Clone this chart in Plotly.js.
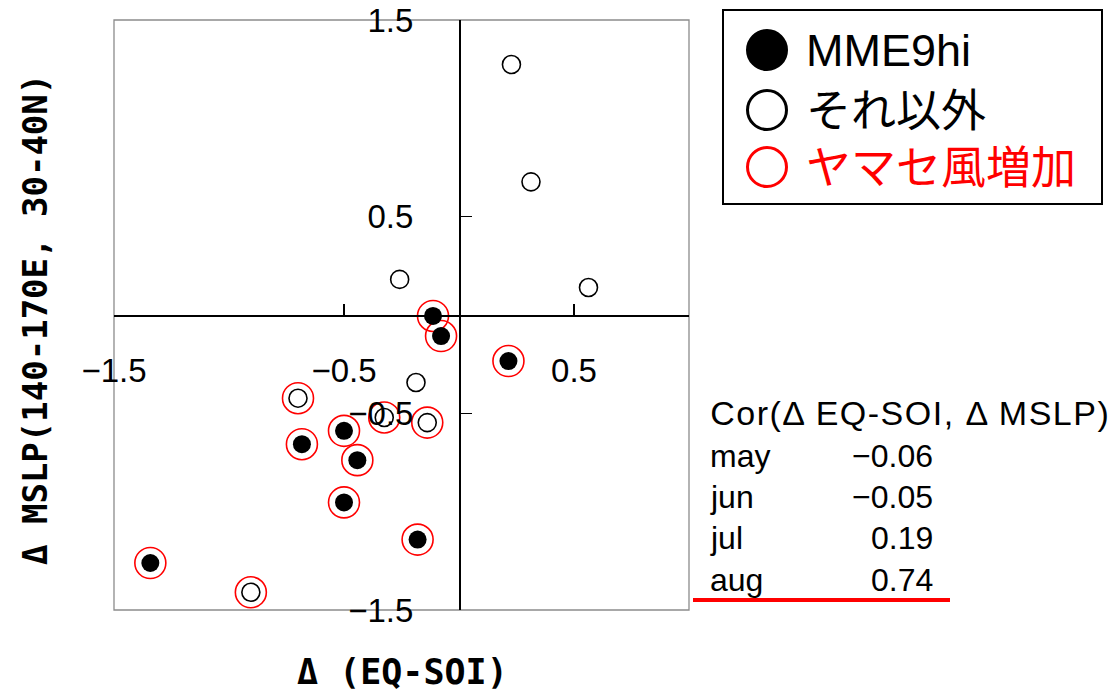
<!DOCTYPE html>
<html>
<head>
<meta charset="utf-8">
<script src="https://cdn.plot.ly/plotly-3.0.1.min.js"></script>
<style>
html,body{margin:0;padding:0;background:#fff;}
#chart{width:1115px;height:692px;}
.annotation[data-index="0"] .annotation-text{letter-spacing:1.5px;}
</style>
</head>
<body>
<div id="chart"></div>
<script>
// ---- data ----
const pointX = [0.228, 0.313, -0.258, 0.563, -0.113, -0.078, 0.215, -0.187, -0.70, -0.325, -0.138, -0.50, -0.683, -0.442, -0.50, -0.18, -1.342, -0.905];
const pointY = [1.274, 0.677, 0.181, 0.140, -0.005, -0.107, -0.234, -0.343, -0.423, -0.521, -0.547, -0.589, -0.657, -0.738, -0.953, -1.142, -1.261, -1.41];
const isMME9hi = [0, 0, 0, 0, 1, 1, 1, 0, 0, 0, 0, 1, 1, 1, 1, 1, 1, 0];
const isYamase = [0, 0, 0, 0, 1, 1, 1, 0, 1, 1, 1, 1, 1, 1, 1, 1, 1, 1];
const xTicks = [-1.5, -0.5, 0.5];
const yTicks = [-1.5, -0.5, 0.5, 1.5];
const legendLabels = ["MME9hi", "それ以外", "ヤマセ風増加"];
const corMonths = ["may", "jun", "jul", "aug"];
const corValues = ["\u22120.06", "\u22120.05", "0.19", "0.74"];
const corHeader = "Cor(Δ EQ-SOI, Δ MSLP)";
const xTitle = "Δ (EQ-SOI)";
const yTitle = "Δ MSLP(140-170E, 30-40N)";

// ---- layout helpers (pixel -> paper) ----
const L = 114, R = 689, T = 20, B = 610;
const px = v => (v - L) / (R - L);
const py = v => (B - v) / (B - T);

const pick = (arr, mask, val) => arr.filter((_, i) => mask[i] === val);

const traces = [
  {
    type: 'scatter', mode: 'markers', name: 'ヤマセ風増加',
    x: pick(pointX, isYamase, 1), y: pick(pointY, isYamase, 1),
    marker: {symbol: 'circle-open', size: 31, color: '#ff0000', line: {width: 1.6, color: '#ff0000'}},
    hoverinfo: 'x+y'
  },
  {
    type: 'scatter', mode: 'markers', name: 'MME9hi',
    x: pick(pointX, isMME9hi, 1), y: pick(pointY, isMME9hi, 1),
    marker: {symbol: 'circle', size: 18, color: '#000000'},
    hoverinfo: 'x+y'
  },
  {
    type: 'scatter', mode: 'markers', name: 'それ以外',
    x: pick(pointX, isMME9hi, 0), y: pick(pointY, isMME9hi, 0),
    marker: {symbol: 'circle-open', size: 18, color: '#000000', line: {width: 1.6, color: '#000000'}},
    hoverinfo: 'x+y'
  }
];

const tickFont = {family: 'Liberation Sans, Arial, sans-serif', size: 33, color: '#000'};
const baseFont = 'Liberation Sans, Noto Sans CJK JP, sans-serif';

const annotations = [];
const shapes = [];

// correlation header (index 0, letter-spaced via CSS)
annotations.push({xref: 'paper', yref: 'paper', x: px(724), y: py(413), xanchor: 'left', yanchor: 'middle',
  showarrow: false, text: corHeader, font: {family: baseFont, size: 34, color: '#000'}});

// plot border
shapes.push({type: 'rect', xref: 'paper', yref: 'paper', x0: 0, x1: 1, y0: 0, y1: 1,
  line: {color: '#8c8c8c', width: 1.3}, layer: 'below'});

// legend box
shapes.push({type: 'rect', xref: 'paper', yref: 'paper', x0: px(723), x1: px(1102), y0: py(204), y1: py(10),
  line: {color: '#000', width: 2}, fillcolor: 'rgba(0,0,0,0)'});
const legY = [50, 110, 167];
const legCx = 767, legR = 19.5;
const legStyle = [
  {fill: '#000', line: '#000'},
  {fill: 'rgba(0,0,0,0)', line: '#000'},
  {fill: 'rgba(0,0,0,0)', line: '#ff0000'}
];
const legTextColor = ['#000', '#000', '#ff0000'];
legendLabels.forEach((lab, i) => {
  shapes.push({type: 'circle', xref: 'paper', yref: 'paper',
    x0: px(legCx - legR), x1: px(legCx + legR), y0: py(legY[i] + legR), y1: py(legY[i] - legR),
    fillcolor: legStyle[i].fill, line: {color: legStyle[i].line, width: 3}});
  annotations.push({xref: 'paper', yref: 'paper', x: px(804), y: py(legY[i] + 1), xanchor: 'left', yanchor: 'middle',
    showarrow: false, text: lab, font: {family: baseFont, size: 45, color: legTextColor[i]}});
});

// correlation table rows
const rowY = [456, 497, 538, 580];
corMonths.forEach((m, i) => {
  annotations.push({xref: 'paper', yref: 'paper', x: px(708), y: py(rowY[i]), xanchor: 'left', yanchor: 'middle',
    showarrow: false, text: m, font: {family: baseFont, size: 32, color: '#000'}});
  annotations.push({xref: 'paper', yref: 'paper', x: px(935), y: py(rowY[i]), xanchor: 'right', yanchor: 'middle',
    showarrow: false, text: corValues[i], font: {family: baseFont, size: 32, color: '#000'}});
});
shapes.push({type: 'line', xref: 'paper', yref: 'paper', x0: px(693), x1: px(950), y0: py(600), y1: py(600),
  line: {color: '#ff0000', width: 4}});

// axis titles
annotations.push({xref: 'paper', yref: 'paper', x: px(402), y: py(672), xanchor: 'center', yanchor: 'middle',
  showarrow: false, text: '<b>' + xTitle + '</b>', font: {family: 'DejaVu Sans Mono, monospace', size: 35, color: '#000'}});
annotations.push({xref: 'paper', yref: 'paper', x: px(35), y: py(320), xanchor: 'center', yanchor: 'middle',
  showarrow: false, textangle: -90, text: '<b>' + yTitle + '</b>', font: {family: 'DejaVu Sans Mono, monospace', size: 34, color: '#000'}});

const axisCommon = {
  anchor: 'free', showline: true, linecolor: '#000', linewidth: 1.5,
  ticks: 'inside', ticklen: 11, tickwidth: 1.5, tickcolor: '#000',
  showgrid: false, zeroline: false, tickfont: tickFont, tickformat: '.1f',
  tickmode: 'array', fixedrange: true, ticklabeloverflow: 'allow'
};

const layout = {
  width: 1115, height: 692,
  margin: {l: L, r: 1115 - R, t: T, b: 692 - B, pad: 0},
  paper_bgcolor: '#fff', plot_bgcolor: '#fff',
  showlegend: false,
  xaxis: Object.assign({}, axisCommon, {range: [-1.5, 1.0], position: 0.5, tickvals: xTicks, ticklabelstandoff: 26, domain: [0, 1]}),
  yaxis: Object.assign({}, axisCommon, {range: [-1.5, 1.5], position: 0.6, tickvals: yTicks, ticklabelstandoff: 39, domain: [0, 1]}),
  shapes: shapes,
  annotations: annotations
};

Plotly.newPlot('chart', traces, layout, {displayModeBar: false, staticPlot: true});
</script>
</body>
</html>
